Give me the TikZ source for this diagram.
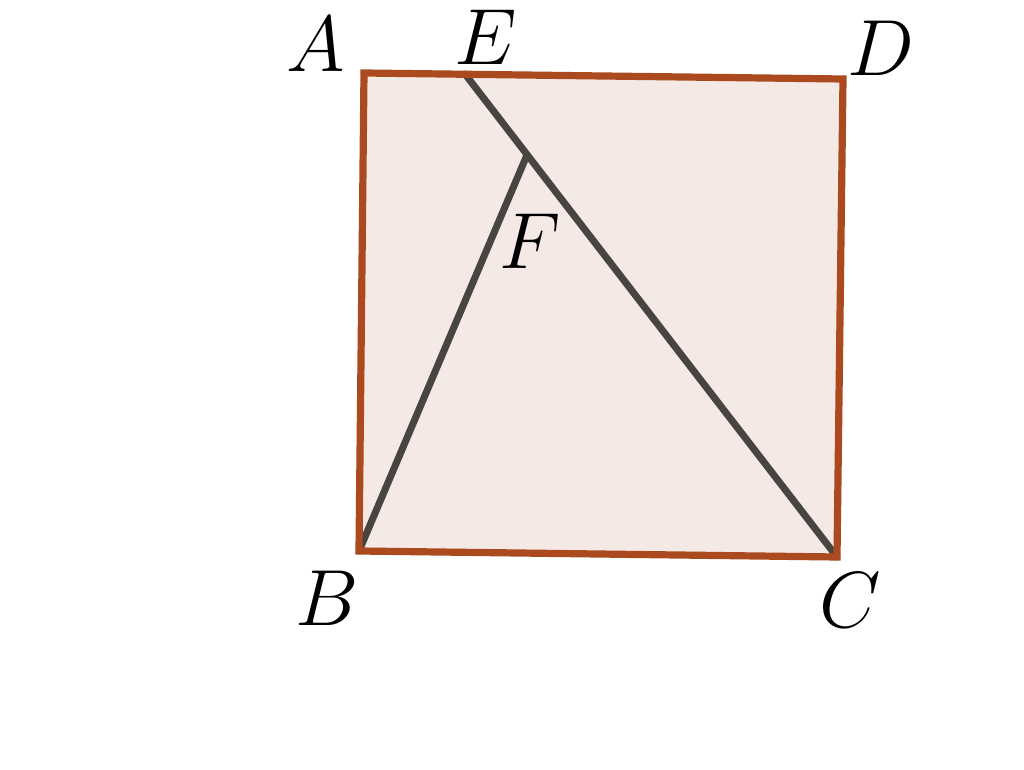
\documentclass[tikz,border=0pt]{standalone}
\definecolor{sqedge}{RGB}{170,74,30}
\definecolor{sqfill}{RGB}{245,233,229}
\definecolor{segcol}{RGB}{72,68,66}
\begin{document}
\begin{tikzpicture}[x=0.5pt,y=-0.5pt,
  lbl/.style={font=\fontsize{24.88}{30}\selectfont, inner sep=0pt, anchor=center, scale=1.6, transform shape},
  sqline/.style={draw=sqedge, line width=3.6pt, line join=miter},
  segline/.style={draw=segcol, line width=3.5pt, line cap=round}]
\useasboundingbox (0,0) rectangle (1024,770);
\coordinate (A) at (364,73);
\coordinate (D) at (843,79);
\coordinate (C) at (837,557);
\coordinate (B) at (359,551);
\coordinate (E) at (465,74);
\coordinate (F) at (527,155);
\fill[sqfill] (A) -- (D) -- (C) -- (B) -- cycle;
\draw[segline] (E) -- (C);
\draw[segline] (B) -- (F);
\draw[sqline] (A) -- (D) -- (C) -- (B) -- cycle;
\node[lbl] (lA) at (316,44) {$A$};
\node[lbl] (lE) at (486,37) {$E$};
\node[lbl] (lD) at (881,48) {$D$};
\node[lbl] (lB) at (327,598) {$B$};
\node[lbl] (lC) at (850,600) {$C$};
\node[lbl] (lF) at (530,241) {$F$};
\end{tikzpicture}
\end{document}
